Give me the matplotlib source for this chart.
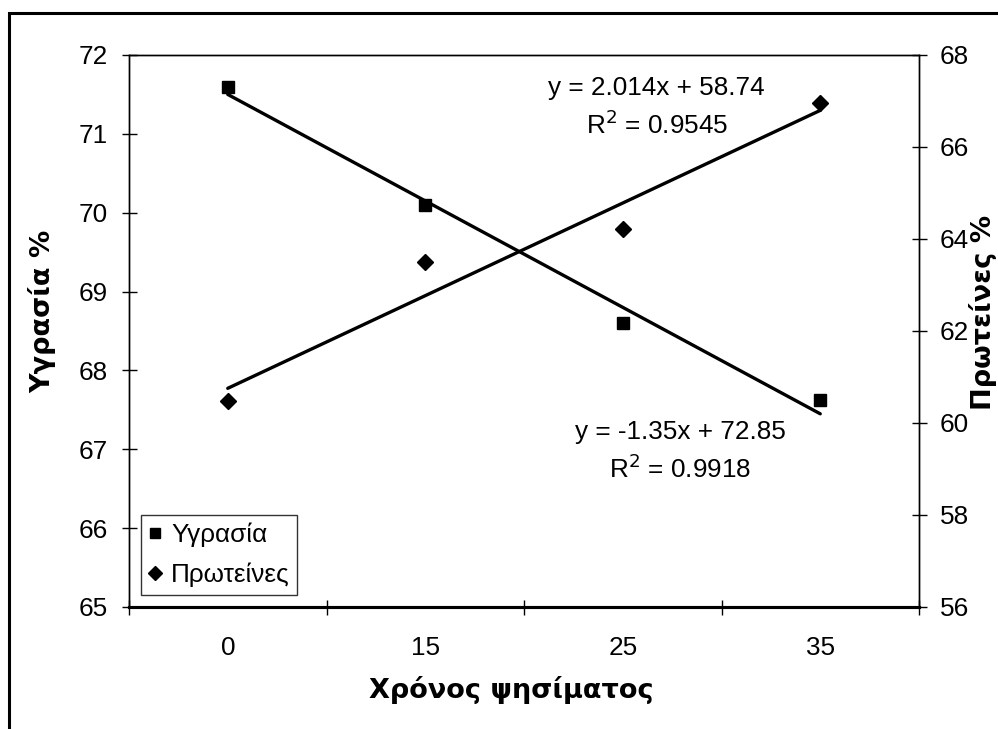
import matplotlib
matplotlib.use("Agg")
import matplotlib.pyplot as plt
from matplotlib.lines import Line2D
from matplotlib.patches import Rectangle
import numpy as np

categories = ["0", "15", "25", "35"]
moisture = [71.6, 70.1, 68.6, 67.63]
protein = [60.47, 63.5, 64.22, 66.95]
moisture_fit = [-1.35, 72.85]   # slope, intercept (x = category index 1..4)
protein_fit = [2.014, 58.74]
moisture_r2 = 0.9918
protein_r2 = 0.9545
left_ticks = [65, 66, 67, 68, 69, 70, 71, 72]
right_ticks = [56, 58, 60, 62, 64, 66, 68]

plt.rcParams['font.family'] = ['Liberation Sans', 'DejaVu Sans']
FS = 18.8
LFS = 19.5
W, H = 998, 729
fig = plt.figure(figsize=(W / 100, H / 100), dpi=100)

# outer frame (cropped on right and bottom)
fig.patches.append(Rectangle((9 / W, -0.05), 1.2, 1 - 13 / H + 0.05, transform=fig.transFigure,
                             fill=False, edgecolor='black', linewidth=2.2, clip_on=False))

ax = fig.add_axes([129 / W, (H - 607) / H, 790 / W, 552 / H])
ax2 = ax.twinx()

x = np.arange(1, len(categories) + 1)

# data
ax.plot(x, moisture, linestyle='none', marker='s', markersize=9, color='black', zorder=4)
ax2.plot(x, protein, linestyle='none', marker='D', markersize=8.5, color='black', zorder=4)

# trendlines
ax.plot(x, moisture_fit[0] * x + moisture_fit[1], color='black', linewidth=2.4, solid_capstyle='round', zorder=3)
ax2.plot(x, protein_fit[0] * x + protein_fit[1], color='black', linewidth=2.4, solid_capstyle='round', zorder=3)

ax.set_xlim(0.5, len(categories) + 0.5)
ax.set_ylim(65, 72)
ax2.set_ylim(56, 68)

ax.set_xticks(np.arange(0.5, len(categories) + 1, 1))
ax.set_xticklabels([])
ax.set_xticks(x, minor=True)
ax.set_xticklabels(categories, minor=True, fontsize=FS)
ax.tick_params(axis='x', which='major', direction='inout', length=10.8, width=1, color='black')
ax.tick_params(axis='x', which='minor', length=0, pad=21)

ax.set_yticks(left_ticks)
ax.set_yticklabels([str(v) for v in left_ticks], fontsize=FS)
ax.tick_params(axis='y', direction='inout', length=10.8, width=1, pad=9.6)
ax2.set_yticks(right_ticks)
ax2.set_yticklabels([str(v) for v in right_ticks], fontsize=FS)
ax2.tick_params(axis='y', direction='inout', length=10.8, width=1, pad=9.6)

for a in (ax, ax2):
    for s in a.spines.values():
        s.set_linewidth(1.0)
        s.set_color('black')
ax.spines['bottom'].set_linewidth(2.2)
ax2.spines['bottom'].set_linewidth(2.2)

# axis labels
fig.text(42 / W, 1 - 311 / H, "Υγρασία %", rotation=90, ha='center', va='center',
         fontsize=LFS, fontweight='bold', family='DejaVu Sans')
fig.text(997 / W, 1 - 312 / H, "Πρωτείνες %", rotation=90, ha='right', va='center',
         fontsize=LFS, fontweight='bold', family='DejaVu Sans')
fig.text(511 / W, 1 - 690 / H, "Χρόνος ψησίματος", ha='center', va='center',
         fontsize=LFS, fontweight='bold', family='DejaVu Sans')

# equations
fig.text(656 / W, 1 - 88 / H, f"y = {protein_fit[0]}x + {protein_fit[1]}", ha='center', va='center', fontsize=FS)
fig.text(657 / W, 1 - 125 / H, f"R$^2$ = {protein_r2}", ha='center', va='center', fontsize=FS)
fig.text(680 / W, 1 - 432 / H, f"y = {moisture_fit[0]}x + {moisture_fit[1]}", ha='center', va='center', fontsize=FS)
fig.text(680 / W, 1 - 469 / H, f"R$^2$ = {moisture_r2}", ha='center', va='center', fontsize=FS)

handles = [Line2D([], [], linestyle='none', marker='s', markersize=7, color='black'),
           Line2D([], [], linestyle='none', marker='D', markersize=7, color='black')]
leg = ax.legend(handles, ["Υγρασία", "Πρωτείνες"], loc='lower left',
                bbox_to_anchor=(141 / W, 1 - 595 / H), bbox_transform=fig.transFigure,
                fontsize=FS, frameon=True, fancybox=False, edgecolor='black',
                handlelength=0.5, handletextpad=0.35, borderpad=0.3, labelspacing=0.6,
                borderaxespad=0)
leg.get_frame().set_linewidth(1.0)

fig.savefig("out.png", dpi=100)
